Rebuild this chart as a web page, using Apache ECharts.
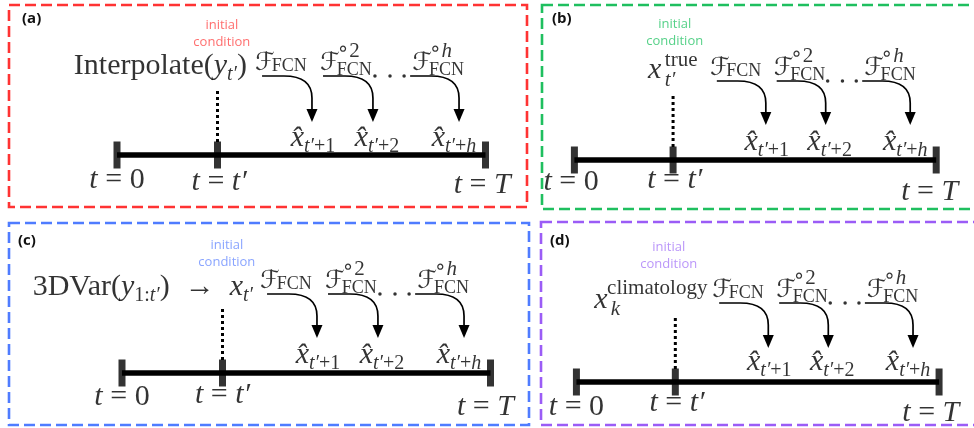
<!DOCTYPE html>
<html>
<head>
<meta charset="utf-8">
<script src="https://cdn.jsdelivr.net/npm/echarts/dist/echarts.min.js"></script>
<style>
  html, body { margin: 0; padding: 0; background: #fff; }
  #main { width: 974px; height: 428px; }
</style>
</head>
<body>
<div id="main"></div>
<script>
// ---- diagram content (x in time steps, t = 0 at 0; y in tenths of the panel height unit)
const tickT = [0, 3, 11] // t = 0, t = t', t = T
const tickText = ['{m|t}{r| = 0}', '{m|t}{r| = }{m|t′}', '{m|t}{r| = }{m|T}']
const stepFrom = [4.33, 6.15, 8.75] // where each forecast arrow leaves
const stepTo = [5.82, 7.64, 10.21] // where it lands
const opX = [4.12, 6.06, 8.81]
const opSup = ['', '{o|∘}{u|2}', '{o|∘}{ui|h}']
const opSubY = [8.9, 8.5, 8.5]
const outX = [5.85, 7.76, 10.06]
const outText = ['{m|x̂}{s|t′}{sr|+1}', '{m|x̂}{s|t′}{sr|+2}', '{m|x̂}{s|t′}{sr|+}{s|h}']
const dotX = [7.7, 8.15, 8.57]

const tags = ['(a)', '(b)', '(c)', '(d)']
const icText = 'initial\ncondition'
const formulas = [
  [[3.88, 8.9, '{r|Interpolate(}{m|y}{s|t′}{r|)}', 'right']],
  [[2.24, 9.0, '{m|x}', 'left'], [2.75, 10.0, '{u|true}', 'left'], [2.75, 8.0, '{ss|t′}', 'left']],
  [[3.91, 8.6, '{r|3DVar(}{m|y}{sr|1:}{s|t′}{r|)  →  }{m|x}{s|t′}', 'right']],
  [[0.54, 8.2, '{m|x}', 'left'], [0.93, 9.4, '{u|climatology}', 'left'], [1.04, 7.3, '{ss|k}', 'left']],
]

// ---- panel layout
const colors = ['#ff3333', '#1fbf5f', '#4f7cff', '#9b5cf6']
const icColors = ['#ff4a4a', '#2cc56a', '#6b8dff', '#a97cf8']
const boxes = [[9, 5, 518, 202], [542, 5, 440, 204], [9, 223, 520, 202], [541, 222, 440, 203]]
const origins = [[117, 155], [575, 160], [122, 373], [577, 382]]
const tagPos = [[22, 11], [552, 11], [18, 233], [550, 233]]
const tickLabelX = [[0, 3.05, 10.9], [-0.1, 3.05, 10.8], [0, 3, 10.85], [0, 3.05, 10.75]]
const tickLabelY = [[-2.5, -2.7, -3.0], [-2.2, -2.0, -3.2], [-2.4, -2.2, -3.4], [-2.5, -2.1, -3.1]]
const icPos = [[3.13, 12.15], [3.05, 12.75], [3.13, 11.9], [2.8, 12.6]]
const outY = [1.7, 1.8, 1.8, 2.0]
const tipY = [3.3, 3.5, 3.5, 3.4]
const ARROW_Y = 7.9
const OP_Y = 9.15
const SUP_Y = 10.4

const SX = 33.5 // px per step
const SY = 10 // px per height unit
const SERIF = '"Liberation Serif", "DejaVu Serif", serif'
const SANS = '"Open Sans", "Noto Sans", sans-serif'

const rich = {
  r: { fontFamily: SERIF, fontSize: 30, color: '#000' },
  m: { fontFamily: SERIF, fontStyle: 'italic', fontSize: 30, color: '#000' },
  s: { fontFamily: SERIF, fontStyle: 'italic', fontSize: 20, color: '#000', padding: [17, 0, 0, 0] },
  sr: { fontFamily: SERIF, fontSize: 20, color: '#000', padding: [17, 0, 0, 0] },
  ss: { fontFamily: SERIF, fontStyle: 'italic', fontSize: 21, color: '#000' },
  u: { fontFamily: SERIF, fontSize: 21, color: '#000' },
  ui: { fontFamily: SERIF, fontStyle: 'italic', fontSize: 21, color: '#000' },
  o: { fontFamily: '"DejaVu Sans", sans-serif', fontSize: 20, color: '#000', padding: [0, 0, 2, 0] },
  c: { fontFamily: '"DejaVu Serif", "DejaVu Sans", serif', fontSize: 25, color: '#000' },
  f: { fontFamily: SERIF, fontSize: 18, color: '#000' },
}

function textSeries(i, items, align, extra) {
  return {
    type: 'scatter',
    xAxisIndex: i,
    yAxisIndex: i,
    symbolSize: 0,
    silent: true,
    clip: false,
    z: 5,
    data: items.map((d) => ({ value: [d[0], d[1]], name: d[2] })),
    label: Object.assign(
      {
        show: true,
        position: 'inside',
        align: align,
        verticalAlign: 'middle',
        color: '#000',
        formatter: (p) => p.name,
        rich: rich,
      },
      extra || {}
    ),
  }
}

const chart = echarts.init(document.getElementById('main'))
const grid = []
const xAxis = []
const yAxis = []
const series = []
const graphic = []
const title = []

boxes.forEach((box, i) => {
  const [bx, by, bw, bh] = box
  const [ox, oy] = origins[i]
  grid.push({ left: bx, top: by, width: bw, height: bh, show: false })
  xAxis.push({ type: 'value', gridIndex: i, show: false, min: (bx - ox) / SX, max: (bx + bw - ox) / SX })
  yAxis.push({ type: 'value', gridIndex: i, show: false, min: (oy - by - bh) / SY, max: (oy - by) / SY })

  graphic.push({
    type: 'rect',
    shape: { x: bx, y: by, width: bw, height: bh },
    style: { fill: 'none', stroke: colors[i], lineWidth: 2.6, lineDash: [11, 5] },
    silent: true,
  })
  title.push({
    text: tags[i],
    left: tagPos[i][0],
    top: tagPos[i][1],
    padding: 0,
    textStyle: { fontFamily: SANS, fontWeight: 'bold', fontSize: 15, color: '#111' },
  })

  // timeline
  series.push({
    type: 'line',
    xAxisIndex: i,
    yAxisIndex: i,
    silent: true,
    symbol: 'none',
    data: [[tickT[0], 0], [tickT[tickT.length - 1], 0]],
    lineStyle: { color: '#000', width: 5.5 },
  })
  // ticks
  series.push({
    type: 'scatter',
    xAxisIndex: i,
    yAxisIndex: i,
    silent: true,
    symbol: 'rect',
    symbolSize: [7, 27],
    itemStyle: { color: '#000' },
    data: tickT.map((t) => [t, 0]),
    z: 4,
  })
  // dotted link from the initial condition down to t'
  series.push({
    type: 'line',
    xAxisIndex: i,
    yAxisIndex: i,
    silent: true,
    symbol: 'none',
    data: [[tickT[1], 1.3], [tickT[1], 6.5]],
    lineStyle: { color: '#000', width: 3, type: [3, 3] },
  })
  // forecast arrows
  series.push({
    type: 'custom',
    xAxisIndex: i,
    yAxisIndex: i,
    silent: true,
    clip: false,
    data: stepFrom.map((x, k) => [x, ARROW_Y, stepTo[k], tipY[i]]),
    renderItem: (params, api) => {
      const a = api.coord([api.value(0), api.value(1)])
      const b = api.coord([api.value(2), api.value(3)])
      const head = 13
      const hw = 5.5
      const rx = Math.min(28, b[0] - a[0])
      const ry = 22
      const yHead = b[1] - head
      return {
        type: 'group',
        children: [
          {
            type: 'path',
            shape: {
              pathData:
                'M' + a[0] + ' ' + a[1] +
                ' L' + (b[0] - rx) + ' ' + a[1] +
                ' Q' + b[0] + ' ' + a[1] + ' ' + b[0] + ' ' + (a[1] + ry) +
                ' L' + b[0] + ' ' + yHead,
            },
            style: { stroke: '#000', lineWidth: 1.7, fill: 'none' },
          },
          {
            type: 'polygon',
            shape: { points: [[b[0] - hw, yHead], [b[0] + hw, yHead], [b[0], b[1]]] },
            style: { fill: '#000' },
          },
        ],
      }
    },
  })
  // ellipsis
  series.push({
    type: 'scatter',
    xAxisIndex: i,
    yAxisIndex: i,
    silent: true,
    symbolSize: 3.5,
    itemStyle: { color: '#000' },
    data: dotX.map((x) => [x, ARROW_Y]),
  })

  series.push(textSeries(i, tickT.map((t, k) => [tickLabelX[i][k], tickLabelY[i][k], tickText[k]]), 'center'))
  series.push(textSeries(i, outX.map((x, k) => [x, outY[i], outText[k]]), 'center'))
  series.push(textSeries(i, opX.map((x) => [x, OP_Y, '{c|ℱ}']), 'left'))
  series.push(textSeries(i, opX.map((x, k) => [x + 0.5, opSubY[k], '{f|FCN}']), 'left'))
  series.push(textSeries(i, opX.map((x, k) => [x + 0.5, SUP_Y, opSup[k]]), 'left'))
  series.push(
    textSeries(i, [[icPos[i][0], icPos[i][1], icText]], 'center', {
      fontFamily: SANS,
      fontSize: 13,
      lineHeight: 17,
      color: icColors[i],
    })
  )
  formulas[i].forEach((f) => series.push(textSeries(i, [[f[0], f[1], f[2]]], f[3])))
})

chart.setOption({
  animation: false,
  backgroundColor: '#fff',
  title: title,
  grid: grid,
  xAxis: xAxis,
  yAxis: yAxis,
  graphic: graphic,
  series: series,
})
</script>
</body>
</html>
